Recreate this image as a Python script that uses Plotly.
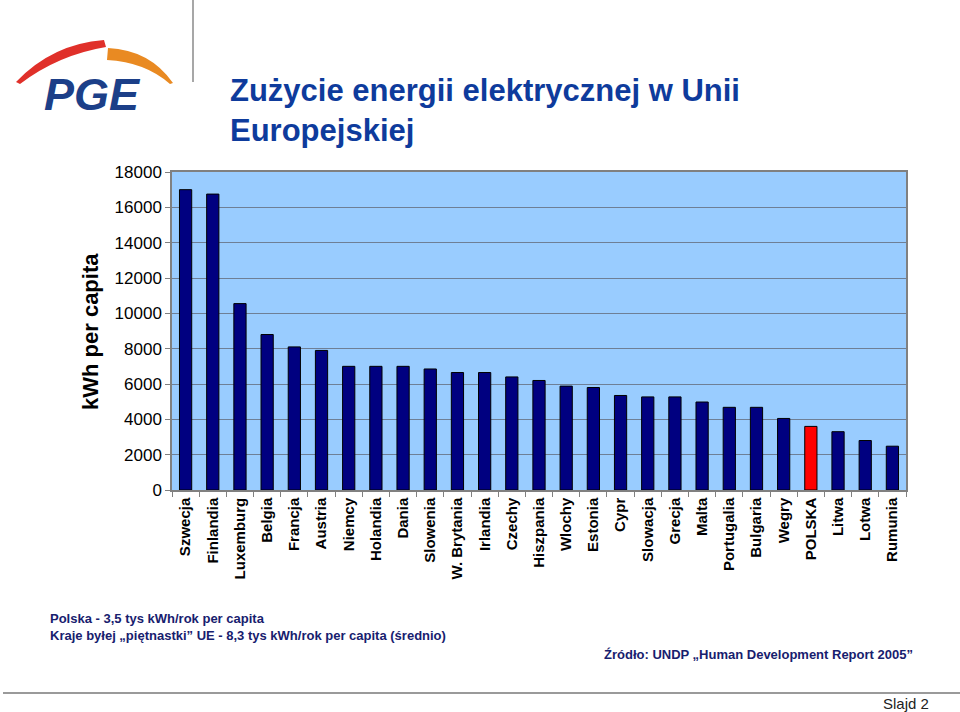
import plotly.graph_objects as go

countries = ["Szwecja", "Finlandia", "Luxemburg", "Belgia", "Francja", "Austria", "Niemcy",
             "Holandia", "Dania", "Slowenia", "W. Brytania", "Irlandia", "Czechy", "Hiszpania",
             "Wlochy", "Estonia", "Cypr", "Slowacja", "Grecja", "Malta", "Portugalia",
             "Bulgaria", "Wegry", "POLSKA", "Litwa", "Lotwa", "Rumunia"]
kwh = [17000, 16750, 10550, 8800, 8100, 7900, 7000,
       7000, 7000, 6850, 6650, 6650, 6400, 6200,
       5880, 5800, 5350, 5270, 5270, 4980, 4680,
       4680, 4050, 3600, 3300, 2800, 2480]
highlight = "POLSKA"
y_ticks = [0, 2000, 4000, 6000, 8000, 10000, 12000, 14000, 16000, 18000]

W, H = 960, 712
L, R, T, B = 172, 906, 172, 490


def px(x):
    return (x - L) / (R - L)


def py(y):
    return (B - y) / (B - T)


colors = ["#FF0000" if c == highlight else "#000080" for c in countries]

fig = go.Figure(go.Bar(
    x=countries, y=kwh,
    marker=dict(color=colors, line=dict(color="#000000", width=1)),
    width=0.45,
))

FONT = "Liberation Sans, Arial, sans-serif"

fig.update_layout(
    width=W, height=H, autosize=False,
    margin=dict(l=L, r=W - R, t=T, b=H - B, pad=0),
    paper_bgcolor="white",
    plot_bgcolor="#99CCFF",
    showlegend=False,
    font=dict(family=FONT, color="#000000"),
)

fig.update_yaxes(
    range=[0, 18000], tickvals=y_ticks, ticktext=[str(v) for v in y_ticks],
    showgrid=True, gridcolor="#6E7F96", gridwidth=1,
    showline=True, linecolor="#808080", linewidth=1.5, mirror=True,
    ticks="outside", ticklen=5, tickcolor="#808080",
    tickfont=dict(size=17, family=FONT, color="#000000"),
    zeroline=False,
)
fig.update_xaxes(
    tickangle=-90,
    tickfont=dict(size=15, family=FONT, color="#000000", weight="bold"),
    showline=True, linecolor="#808080", linewidth=1.5, mirror=True,
    ticks="outside", ticklen=5, tickcolor="#808080", tickson="boundaries",
    showgrid=False,
)

shapes = []
# separator line near logo
shapes.append(dict(type="line", xref="paper", yref="paper",
                   x0=px(193), x1=px(193), y0=py(0), y1=py(82),
                   line=dict(color="#8A8A8A", width=1.5)))
# bottom rule
shapes.append(dict(type="line", xref="paper", yref="paper",
                   x0=px(3), x1=px(960), y0=py(693), y1=py(693),
                   line=dict(color="#9A9A9A", width=2)))


def path(points, closed=True):
    s = ""
    for cmd, pts in points:
        s += cmd + " " + " ".join(f"{px(a):.5f},{py(b):.5f}" for a, b in pts) + " "
    return s + ("Z" if closed else "")


# PGE logo arcs
red = path([("M", [(16, 82)]), ("Q", [(52, 44), (104, 40)]), ("L", [(106, 47), (101, 53)]),
            ("Q", [(58, 55), (20, 84)])])
orange = path([("M", [(108, 48)]), ("Q", [(150, 50), (173, 83)]), ("L", [(170, 84)]),
               ("Q", [(145, 62), (107, 60)])])
shapes.append(dict(type="path", xref="paper", yref="paper", path=red,
                   fillcolor="#E0302A", line=dict(width=0)))
shapes.append(dict(type="path", xref="paper", yref="paper", path=orange,
                   fillcolor="#E98A22", line=dict(width=0)))

fig.update_layout(shapes=shapes)

annotations = [
    dict(text="PGE", x=px(92), y=py(94), xref="paper", yref="paper", showarrow=False,
         xanchor="center", yanchor="middle",
         font=dict(size=45, family=FONT, color="#1C3F88", weight="bold", style="italic")),
    dict(text="<b>Zużycie energii elektrycznej w Unii<br>Europejskiej</b>",
         x=px(228), y=py(110), xref="paper", yref="paper", showarrow=False,
         xanchor="left", yanchor="middle", align="left",
         font=dict(size=31, family=FONT, color="#0E3B9C")),
    dict(text="<b>kWh per capita</b>", textangle=-90,
         x=px(90), y=py(332), xref="paper", yref="paper", showarrow=False,
         xanchor="center", yanchor="middle",
         font=dict(size=22, family=FONT, color="#000000")),
    dict(text="<b>Polska - 3,5 tys kWh/rok per capita<br>Kraje byłej „piętnastki” UE - 8,3 tys kWh/rok per capita (średnio)</b>",
         x=px(48), y=py(627), xref="paper", yref="paper", showarrow=False,
         xanchor="left", yanchor="middle", align="left",
         font=dict(size=13, family=FONT, color="#17206E")),
    dict(text="<b>Źródło: UNDP „Human Development Report 2005”</b>",
         x=px(602), y=py(654), xref="paper", yref="paper", showarrow=False,
         xanchor="left", yanchor="middle", align="left",
         font=dict(size=13, family=FONT, color="#17206E")),
    dict(text="Slajd 2",
         x=px(931), y=py(703), xref="paper", yref="paper", showarrow=False,
         xanchor="right", yanchor="middle",
         font=dict(size=15, family=FONT, color="#222222")),
]
fig.update_layout(annotations=annotations)

fig.write_html("out.html", config={"displayModeBar": False},
               post_script="document.body.style.margin='0px';document.body.style.overflow='hidden';")
